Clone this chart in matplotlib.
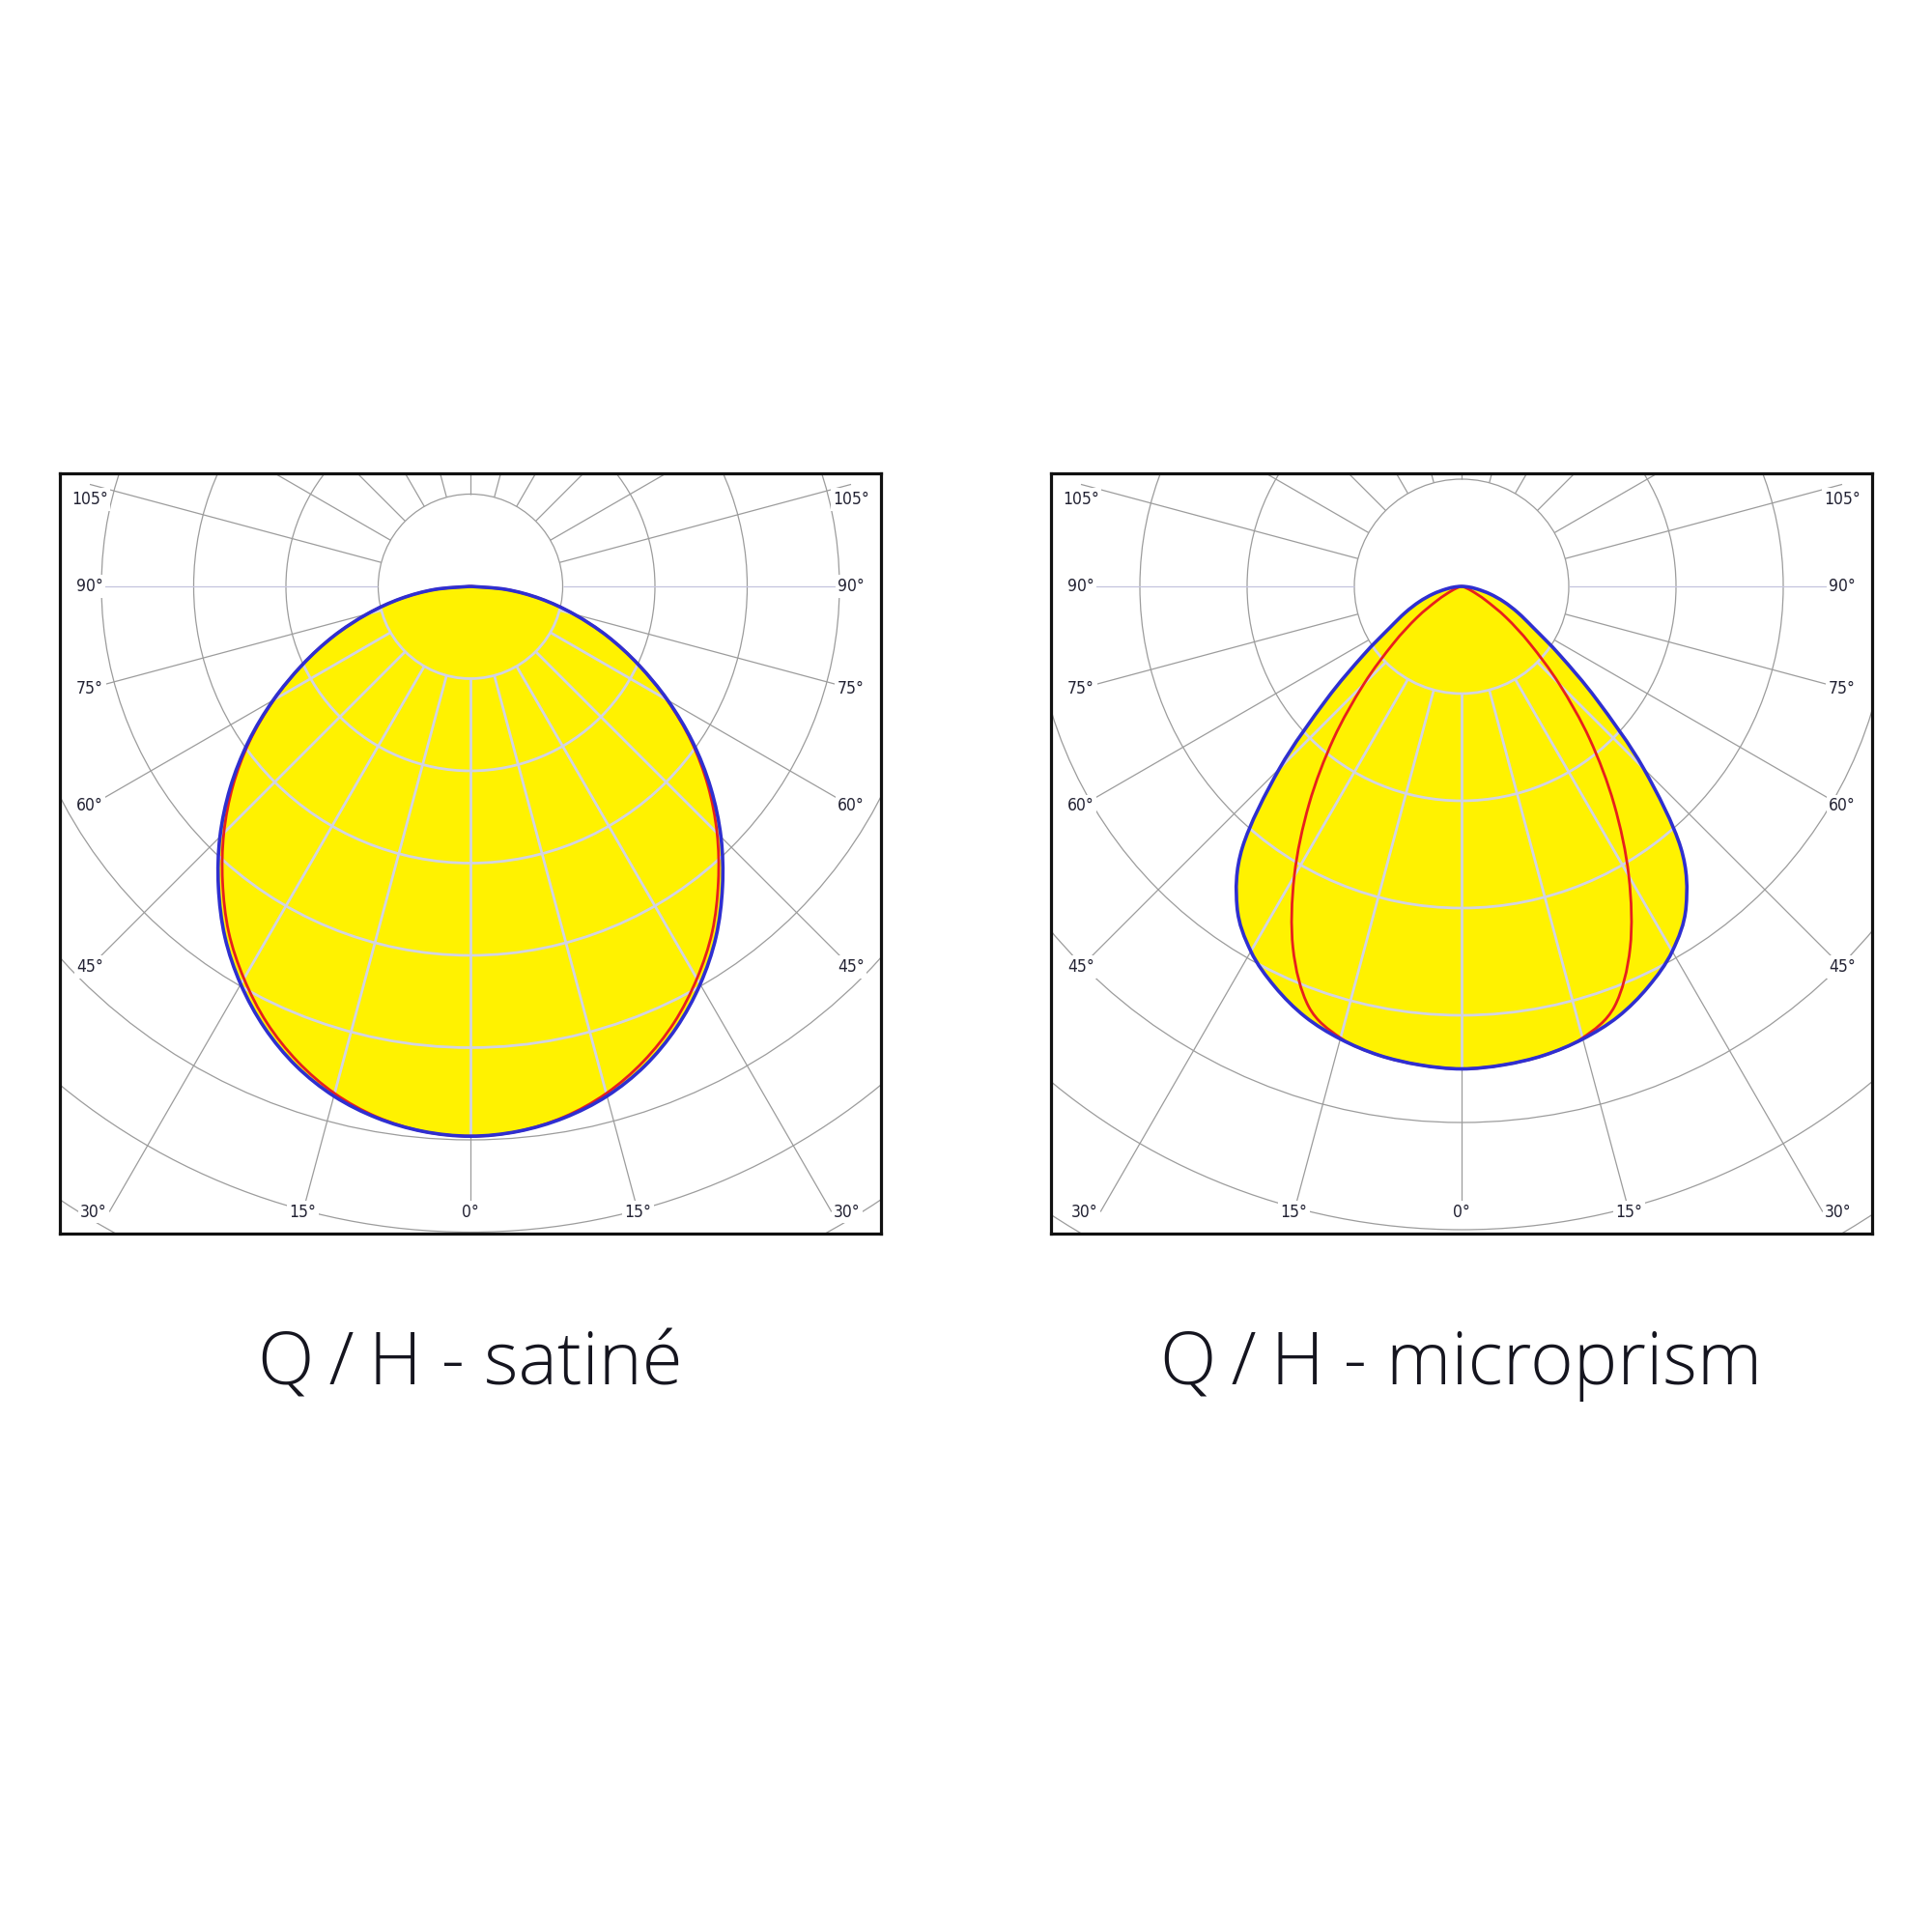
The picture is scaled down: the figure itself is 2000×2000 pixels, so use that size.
import numpy as np
import matplotlib.pyplot as plt
from matplotlib.patches import Circle, PathPatch
from matplotlib.path import Path

# angles from nadir (deg) and relative intensities (in grid rings), one value per 5 deg
angles = [0, 5, 10, 15, 20, 25, 30, 35, 40, 45, 50, 55, 60, 65, 70, 75, 80, 85, 90]

satine_c0 = [5.96, 5.93, 5.85, 5.72, 5.53, 5.28, 4.98, 4.64, 4.25, 3.84,
             3.40, 2.94, 2.47, 2.01, 1.58, 1.16, 0.77, 0.39, 0.0]
satine_c90 = [5.96, 5.93, 5.84, 5.69, 5.48, 5.22, 4.91, 4.57, 4.18, 3.78,
              3.36, 2.92, 2.46, 2.01, 1.58, 1.16, 0.77, 0.39, 0.0]

micro_c0 = [4.50, 4.48, 4.44, 4.37, 4.27, 4.12, 3.93, 3.65, 3.18, 2.40,
            1.65, 1.12, 0.775, 0.58, 0.42, 0.277, 0.15, 0.06, 0.0]
micro_c90 = [4.50, 4.48, 4.44, 4.36, 4.17, 3.72, 3.12, 2.48, 1.86, 1.29,
             0.834, 0.51, 0.26, 0.12, 0.05, 0.02, 0.008, 0.003, 0.0]

titles = ["Q\u2009/\u2009H - satiné", "Q\u2009/\u2009H - microprism"]
ring_px = [95.5, 111.0]          # size of one grid ring in each chart
grid_radii = [1, 2, 3, 4, 5, 6, 7, 8, 9]
grid_step = 15
label_angles = [0, 15, 30, 45, 60, 75, 90, 105]

YELLOW = "#fff200"
BLUE = "#2f2fd0"
RED = "#e8201c"
GRID = "#9c9c9c"
GRID_IN = "#d2d3e2"

# box of each chart in pixels, relative to the pole
BOX_X, BOX_TOP, BOX_BOT = 425, 117, 670
LAB_X, LAB_BOT, LAB_TOP, LAB_CORNER = 394, 647.5, 90, 390


def polar_xy(theta, r):
    t = np.radians(theta)
    return np.asarray(r) * np.sin(t), -np.asarray(r) * np.cos(t)


def curve_path(vals):
    # smooth bezier path through the measured points (both halves mirrored)
    th = np.concatenate([-np.array(angles[::-1]), np.array(angles[1:])])
    rr = np.concatenate([np.array(vals[::-1]), np.array(vals[1:])])
    x, y = polar_xy(th, rr)
    p = np.column_stack([x, y])
    ext = np.vstack([p[0], p, p[-1]])
    verts = [p[0]]
    codes = [Path.MOVETO]
    for i in range(len(p) - 1):
        p0, p1, p2, p3 = ext[i], ext[i + 1], ext[i + 2], ext[i + 3]
        verts += [p1 + (p2 - p0) / 6, p2 - (p3 - p1) / 6, p2]
        codes += [Path.CURVE4] * 3
    return Path(np.array(verts), codes)


def spoke_end(a, u):
    t = np.radians(abs(a))
    ts = []
    if np.sin(t) > 1e-6:
        ts.append(LAB_X / u / np.sin(t))
    if np.cos(t) > 1e-6:
        ts.append(LAB_BOT / u / np.cos(t))
    return min(ts)


def label_pos(a, u):
    x, y = polar_xy(a, spoke_end(a, u))
    if a >= 45:
        return LAB_X / u, min(y, LAB_TOP / u)
    if a == 30:
        return LAB_CORNER / u, -LAB_BOT / u
    return x, -LAB_BOT / u


def draw_grid(ax, u, color, lw, z, clip=None, labels=False):
    arts = []
    for r in grid_radii:
        c = Circle((0, 0), r, fill=False, ec=color, lw=lw, zorder=z)
        ax.add_patch(c)
        arts.append(c)
    for a in range(-180, 180, grid_step):
        col = color
        if abs(a) == 90 and clip is None:
            col = "#c4c4de"
        rend = spoke_end(a, u) if (labels and abs(a) in label_angles) else 14
        x, y = polar_xy(a, [1, rend])
        ln, = ax.plot(x, y, color=col, lw=lw, zorder=z, solid_capstyle="butt")
        arts.append(ln)
    if clip is not None:
        for art in arts:
            art.set_clip_path(clip)
    if labels:
        for a in label_angles:
            x, y = label_pos(a, u)
            for s in ((1,) if a == 0 else (-1, 1)):
                ax.text(s * x, y, f"{a}°", ha="center", va="center", fontsize=12.5,
                        family="DejaVu Sans", fontstretch="condensed",
                        color="#222233", zorder=z + 0.5,
                        bbox=dict(boxstyle="square,pad=0.15", fc="white", ec="none"))


def panel(rect, u, c0, c90, title):
    ax = fig.add_axes(rect)
    ax.set_xlim(-BOX_X / u, BOX_X / u)
    ax.set_ylim(-BOX_BOT / u, BOX_TOP / u)
    ax.set_xticks([])
    ax.set_yticks([])
    for sp in ax.spines.values():
        sp.set_linewidth(2.3)
        sp.set_color("#111111")

    draw_grid(ax, u, GRID, 0.9, 1, labels=True)

    blue = curve_path(c0)
    fill = PathPatch(blue, fc=YELLOW, ec="none", zorder=2)
    ax.add_patch(fill)
    draw_grid(ax, u, GRID_IN, 2.0, 3, clip=fill)

    ax.add_patch(PathPatch(curve_path(c90), fc="none", ec=RED, lw=2.0, zorder=4))
    ax.add_patch(PathPatch(blue, fc="none", ec=BLUE, lw=2.6, zorder=5))

    cx = rect[0] + rect[2] / 2
    fig.text(cx, 0.2835, title, ha="center", va="baseline", fontsize=55,
             family=["Open Sans", "DejaVu Sans"], fontweight="light", color="#15151f")
    return ax


fig = plt.figure(figsize=(20, 20), dpi=100)
fig.patch.set_facecolor("white")

panel([0.031, 0.3615, 0.425, 0.3935], ring_px[0], satine_c0, satine_c90, titles[0])
panel([0.544, 0.3615, 0.425, 0.3935], ring_px[1], micro_c0, micro_c90, titles[1])

fig.savefig("out.png", dpi=100, facecolor="white")
